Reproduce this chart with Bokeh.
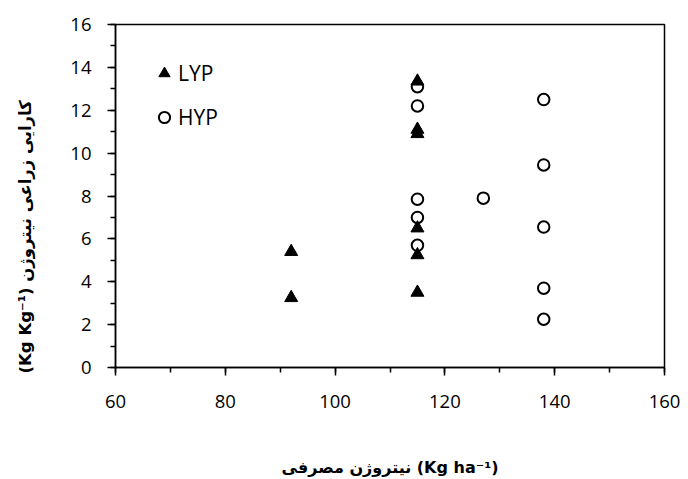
from bokeh.plotting import figure
from bokeh.models import Legend, LegendItem, Title, FixedTicker
from bokeh.embed import file_html
from bokeh.resources import INLINE

# Data
lyp_x = [92, 92, 115, 115, 115, 115, 115, 115]
lyp_y = [5.4, 3.25, 13.35, 11.1, 10.9, 6.5, 5.25, 3.5]
hyp_x = [115, 115, 115, 115, 115, 127, 138, 138, 138, 138, 138]
hyp_y = [13.1, 12.2, 7.85, 7.0, 5.7, 7.9, 12.5, 9.45, 6.55, 3.7, 2.25]
x_ticks = [60, 80, 100, 120, 140, 160]
y_ticks = [0, 2, 4, 6, 8, 10, 12, 14, 16]
x_title = "نیتروژن مصرفی (Kg ha⁻¹)"
y_title = "(Kg Kg⁻¹) کارایی زراعی نیتروژن"

TICK_FONT = "Open Sans"
LABEL_FONT = "DejaVu Sans"

p = figure(width=688, height=479, x_range=(60, 160), y_range=(0, 16),
           output_backend="svg", toolbar_location=None,
           min_border_left=115, min_border_right=24, min_border_top=24,
           min_border_bottom=110)
p.xgrid.visible = False
p.ygrid.visible = False
p.outline_line_color = "black"
p.outline_line_width = 1.5
p.background_fill_color = "white"
p.border_fill_color = "white"

r_h = p.scatter(hyp_x, hyp_y, marker="circle", size=11.5, fill_color=None,
                line_color="black", line_width=2)
r_l = p.scatter(lyp_x, lyp_y, marker="triangle", size=13, fill_color="black",
                line_color="black", line_width=1)

for ax in (p.xaxis[0], p.yaxis[0]):
    ax.axis_line_color = "black"
    ax.axis_line_width = 1.5
    ax.major_tick_line_color = "black"
    ax.minor_tick_line_color = "black"
    ax.major_tick_line_width = 1.5
    ax.minor_tick_line_width = 1.5
    ax.major_tick_in = 0
    ax.major_tick_out = 8
    ax.minor_tick_in = 0
    ax.minor_tick_out = 5
    ax.major_label_text_font = TICK_FONT
    ax.major_label_text_font_size = "18.5px"
    ax.major_label_text_color = "black"

p.xaxis.ticker = FixedTicker(ticks=x_ticks, minor_ticks=list(range(60, 161, 10)))
p.yaxis.ticker = FixedTicker(ticks=y_ticks, minor_ticks=list(range(0, 17, 1)))
p.xaxis.major_label_standoff = 19
p.yaxis.major_label_standoff = 16

p.xaxis.axis_label = x_title
p.xaxis.axis_label_text_font = LABEL_FONT
p.xaxis.axis_label_text_font_style = "bold"
p.xaxis.axis_label_text_font_size = "16px"
p.xaxis.axis_label_text_color = "black"
p.xaxis.axis_label_standoff = 47

# second (blank) line only reserves room between the title and the tick labels
ytitle = Title(text=y_title + "\n\u00a0", align="left", offset=-6,
               vertical_align="top", standoff=24, text_font=LABEL_FONT,
               text_font_style="bold", text_font_size="16.5px",
               text_color="black")
p.add_layout(ytitle, "left")

legend = Legend(items=[LegendItem(label="LYP", renderers=[r_l]),
                       LegendItem(label="HYP", renderers=[r_h])],
                location="top_left", glyph_width=28, glyph_height=28,
                spacing=16, padding=32, margin=35, label_standoff=0,
                label_text_font=TICK_FONT, label_text_font_size="21px",
                label_text_color="black",
                border_line_color=None, background_fill_alpha=0)
p.add_layout(legend)

open("out.html", "w").write(file_html(p, INLINE))
